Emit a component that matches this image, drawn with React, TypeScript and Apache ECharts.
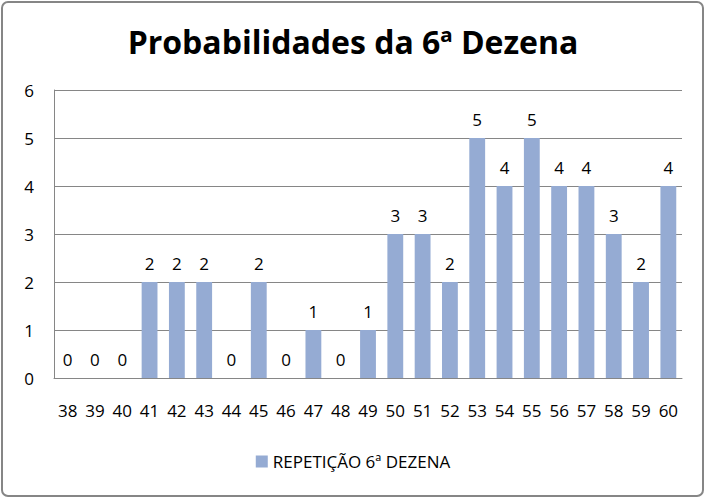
import React, { useEffect, useRef } from "react";
import * as echarts from "echarts";

const categories = ["38","39","40","41","42","43","44","45","46","47","48","49","50","51","52","53","54","55","56","57","58","59","60"];
const repeticao = [0,0,0,2,2,2,0,2,0,1,0,1,3,3,2,5,4,5,4,4,3,2,4];
const yTicks = [0, 1, 2, 3, 4, 5, 6];
const titleText = "Probabilidades da 6ª Dezena";
const seriesName = "REPETIÇÃO 6ª DEZENA";

export default function App() {
  const ref = useRef<HTMLDivElement>(null);
  useEffect(() => {
    document.body.style.margin = "0";
    const chart = echarts.init(ref.current!, null, { renderer: "svg" });
    const font = "Open Sans, DejaVu Sans, sans-serif";
    chart.setOption({
      animation: false,
      backgroundColor: "#ffffff",
      title: {
        text: titleText,
        left: "center",
        top: 20,
        textStyle: { fontFamily: font, fontWeight: "bold", fontSize: 32, color: "#000" },
      },
      graphic: [
        {
          type: "rect",
          shape: { x: 2, y: 2, width: 701, height: 494, r: 6 },
          style: { fill: "none", stroke: "#868686", lineWidth: 2 },
          silent: true,
        },
      ],
      legend: {
        bottom: 24,
        left: "center",
        itemWidth: 12,
        itemHeight: 12,
        icon: "rect",
        itemGap: 6,
        textStyle: { fontFamily: font, fontSize: 17, color: "#000" },
        data: [seriesName],
      },
      grid: { left: 54, right: 24, top: 90, bottom: 121 },
      xAxis: {
        type: "category",
        data: categories,
        axisTick: { show: false },
        axisLine: { show: true, lineStyle: { color: "#868686" } },
        axisLabel: { fontFamily: font, fontSize: 17, color: "#000", margin: 24, interval: 0 },
      },
      yAxis: {
        type: "value",
        min: 0,
        max: 6,
        interval: 1,
        axisLine: { show: true, lineStyle: { color: "#868686" } },
        axisTick: { show: false },
        splitLine: { lineStyle: { color: "#868686" } },
        axisLabel: {
          fontFamily: font,
          fontSize: 17,
          color: "#000",
          margin: 20,
          formatter: (v: number) => (yTicks.includes(v) ? String(v) : ""),
        },
      },
      series: [
        {
          name: seriesName,
          type: "bar",
          data: repeticao,
          barWidth: "58%",
          itemStyle: { color: "#95abd3" },
          label: {
            show: true,
            position: "top",
            distance: 10,
            fontFamily: font,
            fontSize: 17,
            color: "#000",
          },
        },
      ],
    });
    return () => chart.dispose();
  }, []);
  return <div ref={ref} style={{ width: 706, height: 499 }} />;
}
